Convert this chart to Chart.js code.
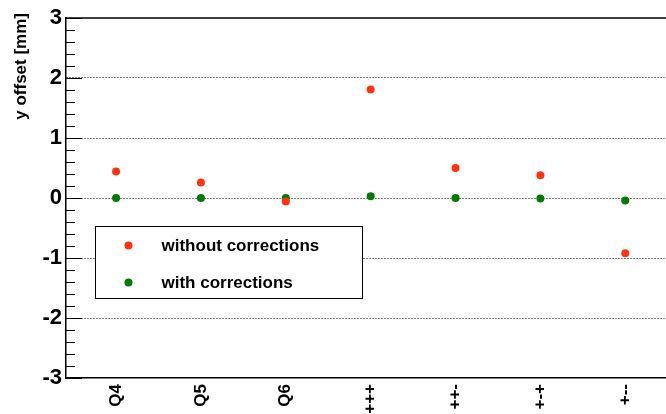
<!DOCTYPE html>
<html>
<head>
<meta charset="utf-8">
<script src="https://cdn.jsdelivr.net/npm/chart.js@4/dist/chart.umd.min.js"></script>
<style>
  html, body { margin: 0; padding: 0; background: #fff; }
  #wrap { width: 666px; height: 414px; }
</style>
</head>
<body>
<div id="wrap"><canvas id="offset-chart" width="666" height="414"></canvas></div>
<script>
/* data */
const categories = ['Q4', 'Q5', 'Q6', '+++', '++-', '+-+', '+--'];
const without_corr = [0.44, 0.26, -0.06, 1.81, 0.50, 0.38, -0.92];
const with_corr = [0.00, 0.00, 0.00, 0.03, 0.00, -0.01, -0.04];
const y_ticks = [-3, -2, -1, 0, 1, 2, 3];
const y_title = 'y offset [mm]';

const RED = '#ff3311';
const GREEN = '#007a00';
const FONT = "'Liberation Sans', Arial, sans-serif";

function toPoints(vals){
    return vals.map((v, i) => ({x: i + 1, y: v}));
}

/* ROOT style frame: top line, inward major/minor ticks on y, axis title */
const framePlugin = {
    id: 'frame',
    afterDraw(chart){
        const {ctx, chartArea} = chart;
        const y = chart.scales.y;
        ctx.save();
        ctx.strokeStyle = '#000';
        ctx.lineWidth = 1.5;
        ctx.beginPath();
        ctx.moveTo(chartArea.left, chartArea.top);
        ctx.lineTo(chartArea.right, chartArea.top);
        ctx.stroke();
        ctx.lineWidth = 1;
        for (let k = -15; k <= 15; k++){
            const v = k / 5;
            const py = Math.round(y.getPixelForValue(v)) + 0.5;
            const len = (k % 5 === 0) ? 16 : 9;
            ctx.beginPath();
            ctx.moveTo(chartArea.left, py);
            ctx.lineTo(chartArea.left + len, py);
            ctx.stroke();
        }
        // y title, right aligned to the top like ROOT does
        ctx.translate(21, 13);
        ctx.rotate(-Math.PI / 2);
        ctx.font = 'bold 17px ' + FONT;
        ctx.fillStyle = '#000';
        ctx.textAlign = 'right';
        ctx.textBaseline = 'middle';
        ctx.fillText(y_title, 0, 0);
        ctx.restore();
    }
};

/* boxed legend inside the plot */
const legendBox = {
    id: 'legendBox',
    afterDraw(chart){
        const {ctx} = chart;
        const box = {x: 95.5, y: 226.5, w: 267, h: 72};
        ctx.save();
        ctx.fillStyle = '#fff';
        ctx.fillRect(box.x, box.y, box.w, box.h);
        ctx.strokeStyle = '#000';
        ctx.lineWidth = 1;
        ctx.strokeRect(box.x, box.y, box.w, box.h);
        ctx.font = 'bold 17px ' + FONT;
        ctx.textBaseline = 'middle';
        chart.data.datasets.forEach((ds, i) => {
            const cy = box.y + 19 + i * 37;
            ctx.fillStyle = ds.backgroundColor;
            ctx.beginPath();
            ctx.arc(box.x + 33, cy, 4, 0, Math.PI * 2);
            ctx.fill();
            ctx.fillStyle = '#000';
            ctx.fillText(ds.label, box.x + 66, cy + 1);
        });
        ctx.restore();
    }
};

let ctx = document.getElementById('offset-chart');
let offset_chart = new Chart(ctx, {
    type: 'scatter',
    data: {
        datasets: [{
            label: 'without corrections',
            data: toPoints(without_corr),
            backgroundColor: RED,
            borderColor: RED,
            pointRadius: 4,
            borderWidth: 0
        }, {
            label: 'with corrections',
            data: toPoints(with_corr),
            backgroundColor: GREEN,
            borderColor: GREEN,
            pointRadius: 4,
            borderWidth: 0
        }]
    },
    options: {
        responsive: false,
        animation: false,
        layout: { autoPadding: false, padding: { top: 18, right: 0, left: 0, bottom: 0 } },
        plugins: {
            legend: { display: false },
            tooltip: { enabled: false }
        },
        scales: {
            x: {
                type: 'linear',
                min: 0.41,
                max: 7.48,
                afterBuildTicks: (scale) => {
                    scale.ticks = categories.map((c, i) => ({value: i + 1}));
                },
                afterFit: (scale) => {
                    scale.height = 36;
                    scale.paddingLeft = 0;
                    scale.paddingRight = 0;
                },
                ticks: {
                    autoSkip: false,
                    minRotation: 90,
                    maxRotation: 90,
                    padding: 6,
                    color: '#000',
                    font: { family: FONT, size: 17, weight: 'bold' },
                    callback: (v) => categories[Math.round(v) - 1]
                },
                grid: { display: false, drawTicks: false },
                border: { display: true, color: '#000', width: 1.5 }
            },
            y: {
                min: -3,
                max: 3,
                afterBuildTicks: (scale) => {
                    scale.ticks = y_ticks.map(v => ({value: v}));
                },
                afterFit: (scale) => {
                    scale.width = 66;
                    scale.paddingTop = 0;
                    scale.paddingBottom = 0;
                },
                ticks: {
                    padding: 4,
                    color: '#000',
                    font: { family: FONT, size: 22, weight: 'bold' }
                },
                grid: {
                    drawTicks: false,
                    lineWidth: 1,
                    color: (c) => (c.tick && Math.abs(c.tick.value) < 3) ? '#000' : 'rgba(0,0,0,0)'
                },
                border: { display: true, color: '#000', width: 1.5, dash: [1, 2] }
            }
        }
    },
    plugins: [framePlugin, legendBox]
});
</script>
</body>
</html>
